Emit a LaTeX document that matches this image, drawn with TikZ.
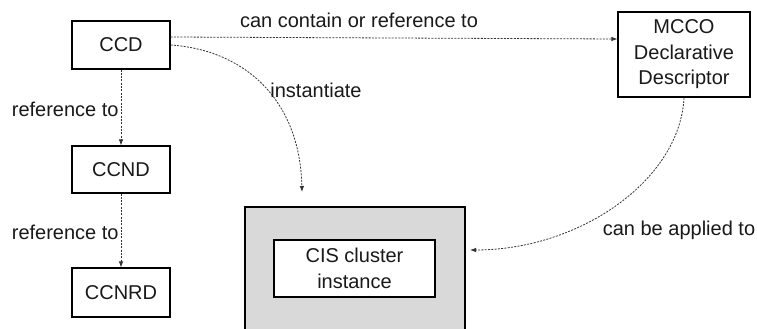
\documentclass[tikz,border=0pt]{standalone}
\usepackage{fontspec}
\setmainfont{Liberation Sans}
\usetikzlibrary{arrows.meta}
\begin{document}
\begin{tikzpicture}[x=1pt,y=-1pt,
  every node/.style={font=\fontsize{20}{25.5}\selectfont, text=black!90},
  box/.style={draw=black, line width=1.1pt, fill=white, inner sep=0pt, align=center},
  conn/.style={draw=black!80, line width=0.8pt, dash pattern=on 2pt off 1.3pt,
    -{Latex[length=6pt,width=4.5pt]}},
  lbl/.style={inner sep=2pt}]
\clip (0,0) rectangle (757,329);
\fill[white] (0,0) rectangle (757,329);
% boxes
\node[box, minimum width=98pt, minimum height=48pt] (CCD) at (121,45) {CCD};
\node[box, minimum width=98pt, minimum height=47pt] (CCND) at (121,169.5) {CCND};
\node[box, minimum width=98pt, minimum height=49pt] (CCNRD) at (121,292.5) {CCNRD};
\node[box, minimum width=132pt, minimum height=85pt] (MCCO) at (684,54.5) {MCCO\\Declarative\\Descriptor};
\node[draw=black, line width=1.1pt, fill=black!15, minimum width=220pt, minimum height=150pt, inner sep=0pt] (cluster) at (355,282) {};
\node[box, minimum width=161pt, minimum height=57pt] (CIS) at (354.5,268.5) {CIS cluster\\instance};
% free ends
\coordinate (instEnd) at (302,192);
\coordinate (applyEnd) at (470,250);
% connectors
\draw[conn] ([yshift=8pt]CCD.east) -- ([yshift=15.5pt]MCCO.west);
\draw[conn] (CCD.east) .. controls (245,50) and (300,100) .. (instEnd);
\draw[conn] (MCCO.south) .. controls (680,180) and (580,250) .. (applyEnd);
\draw[conn] (CCD.south) -- node[lbl, left, pos=0.52] {reference to} (CCND.north);
\draw[conn] (CCND.south) -- node[lbl, left, pos=0.52] {reference to} (CCNRD.north);
% labels
\node[lbl] (lcontain) at (359,20) {can contain or reference to};
\node[lbl] (linst) at (316,90) {instantiate};
\node[lbl] (lapply) at (679,230) {can be applied to};
\end{tikzpicture}
\end{document}
